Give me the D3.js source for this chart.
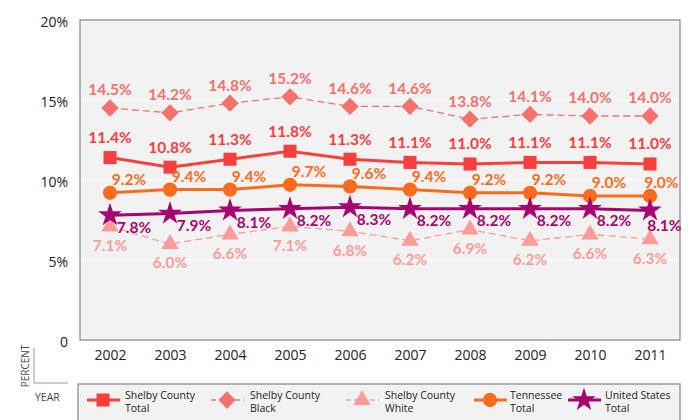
<!DOCTYPE html>
<html><head><meta charset="utf-8">
<script src="https://cdn.jsdelivr.net/npm/d3@7"></script>
<style>body{margin:0;background:#fff}svg{display:block}</style>
</head><body><svg id="c" width="700" height="420"></svg>
<script>
const years = ["2002","2003","2004","2005","2006","2007","2008","2009","2010","2011"];
const shelbyTotal = [11.4,10.8,11.3,11.8,11.3,11.1,11.0,11.1,11.1,11.0];
const shelbyBlack = [14.5,14.2,14.8,15.2,14.6,14.6,13.8,14.1,14.0,14.0];
const shelbyWhite = [7.1,6.0,6.6,7.1,6.8,6.2,6.9,6.2,6.6,6.3];
const tennessee = [9.2,9.4,9.4,9.7,9.6,9.4,9.2,9.2,9.0,9.0];
const unitedStates = [7.8,7.9,8.1,8.2,8.3,8.2,8.2,8.2,8.2,8.1];
const yTicks = [0,5,10,15,20];
const legendNames = [["Shelby County","Total"],["Shelby County","Black"],["Shelby County","White"],["Tennessee","Total"],["United States","Total"]];

const series = [
  {vals: shelbyBlack, color:"#f4716c", width:1.3, dash:"7,4", sym:d3.symbolSquare, rot:45, size:150, dx:0, dy:-18},
  {vals: shelbyWhite, color:"#fb9c99", width:1.3, dash:"7,4", sym:d3.symbolTriangle, rot:0, size:130, dx:0, dy:19},
  {vals: shelbyTotal, color:"#f7403d", width:3, dash:null, sym:d3.symbolSquare, rot:0, size:170, dx:0, dy:-20},
  {vals: tennessee, color:"#fa6b1e", width:3, dash:null, sym:d3.symbolCircle, rot:0, size:160, dx:19, dy:-13},
  {vals: unitedStates, color:"#a6056f", width:3, dash:null, sym:d3.symbolStar, rot:0, size:175, dx:24, dy:12}
];
const legendOrder = [2,0,1,3,4];

const svg = d3.select("#c");
const L=80,R=680,T=20,B=340;
const x = d3.scalePoint().domain(years).range([L,R]).padding(0.5);
const y = d3.scaleLinear().domain([0,20]).range([B,T]);

svg.append("rect").attr("x",L).attr("y",T).attr("width",R-L).attr("height",B-T).attr("fill","#f2f2f2");
svg.append("g").selectAll("line").data(yTicks.slice(1,-1)).join("line")
  .attr("x1",L).attr("x2",R).attr("y1",d=>y(d)).attr("y2",d=>y(d)).attr("stroke","#fff").attr("stroke-width",1.2);
svg.append("rect").attr("x",L).attr("y",T).attr("width",R-L).attr("height",B-T).attr("fill","none").attr("stroke","#9a9a9a").attr("stroke-width",1.5);

const font = "'Open Sans', 'Noto Sans', sans-serif";
const bold = "Lato, 'Open Sans', sans-serif";

const yAxis = d3.axisLeft(y).tickValues(yTicks).tickSize(0).tickPadding(12).tickFormat(d=>d===0?"0":d+"%");
const ya = svg.append("g").attr("transform",`translate(${L},0)`).call(yAxis);
ya.select(".domain").remove();
ya.selectAll("text").attr("font-family",font).attr("font-size",14).attr("fill","#222").attr("dy","0.45em");

const xAxis = d3.axisBottom(x).tickSize(0).tickPadding(10);
const xa = svg.append("g").attr("transform",`translate(0,${B})`).call(xAxis);
xa.select(".domain").remove();
xa.selectAll("text").attr("font-family",font).attr("font-size",14).attr("fill","#222");

const line = d3.line().x((d,i)=>x(years[i])).y(d=>y(d));
series.forEach(s=>{
  svg.append("path").attr("d",line(s.vals)).attr("fill","none").attr("stroke",s.color)
    .attr("stroke-width",s.width).attr("stroke-dasharray",s.dash);
});
series.forEach(s=>{
  svg.append("g").selectAll("path").data(s.vals).join("path")
    .attr("d",d3.symbol().type(s.sym).size(s.size))
    .attr("transform",(d,i)=>`translate(${x(years[i])},${y(d)}) rotate(${s.rot})`)
    .attr("fill",s.color);
});
series.forEach(s=>{
  svg.append("g").selectAll("text").data(s.vals).join("text")
    .attr("x",(d,i)=>x(years[i]) + (i===9 && s.dx>0 ? s.dx*0.6 : s.dx))
    .attr("y",(d,i)=>y(d) + (i===9 && s.vals===unitedStates ? s.dy+3 : s.dy))
    .attr("dy","0.35em").attr("text-anchor","middle")
    .attr("font-family",bold).attr("font-weight",700).attr("font-size",15.5)
    .attr("fill",s.color).text(d=>d.toFixed(1)+"%");
});

// PERCENT / YEAR bracket
svg.append("path").attr("d","M34,348 V383 H68").attr("fill","none").attr("stroke","#999").attr("stroke-width",1);
svg.append("text").attr("transform","translate(29,366) rotate(-90)").attr("text-anchor","middle")
  .attr("font-family",font).attr("font-size",10).attr("fill","#444").text("PERCENT");
svg.append("text").attr("x",35).attr("y",401).attr("font-family",font).attr("font-size",10.5).attr("fill","#444").text("YEAR");

// legend
svg.append("rect").attr("x",78).attr("y",384).attr("width",602).attr("height",50).attr("fill","#f2f2f2").attr("stroke","#9a9a9a").attr("stroke-width",1.5);
const legX = [103,227,362,490,584];
const legTX = [125,250,385,510,605];
legendOrder.forEach((si,k)=>{
  const s = series[si];
  const cx = legX[k], cy = 400;
  svg.append("line").attr("x1",cx-16).attr("x2",cx+17).attr("y1",cy).attr("y2",cy)
    .attr("stroke",s.color).attr("stroke-width",s.width).attr("stroke-dasharray",s.dash?"5,3":null);
  svg.append("path").attr("d",d3.symbol().type(s.sym).size(s.size))
    .attr("transform",`translate(${cx},${cy}) rotate(${s.rot})`).attr("fill",s.color);
  svg.append("text").attr("x",legTX[k]).attr("y",399).attr("font-family",font).attr("font-size",10.5).attr("fill","#222").text(legendNames[k][0]);
  svg.append("text").attr("x",legTX[k]).attr("y",412).attr("font-family",font).attr("font-size",10.5).attr("fill","#222").text(legendNames[k][1]);
});
</script></body></html>
